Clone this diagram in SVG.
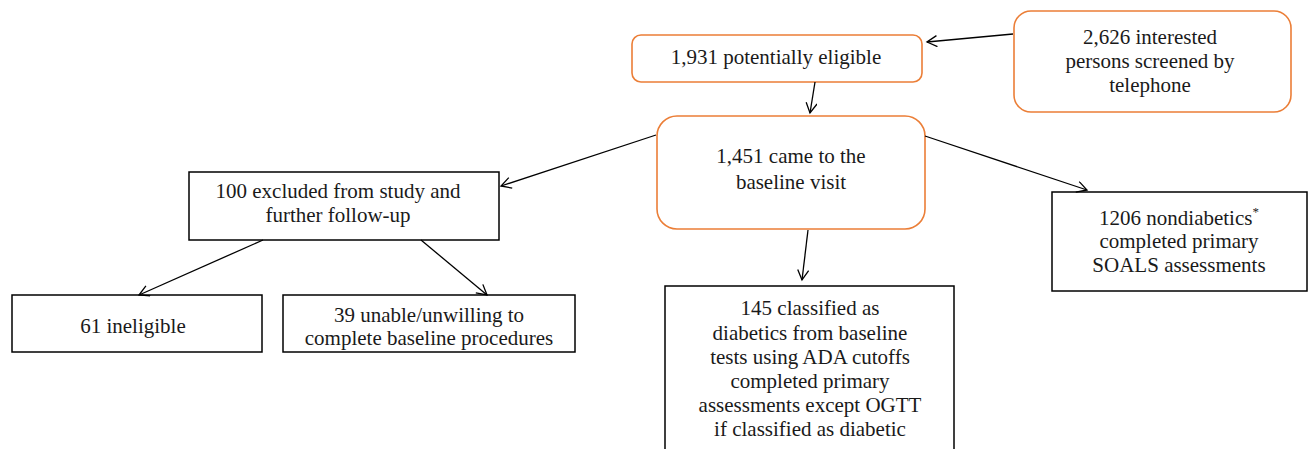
<svg xmlns="http://www.w3.org/2000/svg" width="1309" height="449" viewBox="0 0 1309 449">
<defs>
<style>
.ob{fill:#fff;stroke:#EB7E37;stroke-width:1.6}
.bb{fill:#fff;stroke:#000;stroke-width:1.5}
text{font-family:"Liberation Serif","Times New Roman",serif;font-size:21px;fill:#1a1a1a;text-anchor:middle}
.c line{stroke:#000;stroke-width:1.3;marker-end:url(#ah)}
</style>
<marker id="ah" markerUnits="userSpaceOnUse" markerWidth="14" markerHeight="14" refX="11" refY="6" orient="auto">
<path d="M1,0.5 L11,6 L1,11.5" fill="none" stroke="#000" stroke-width="1.3"/>
</marker>
</defs>
<rect width="1309" height="449" fill="#fff"/>
<g id="n2626">
<rect class="ob" x="1014" y="11" width="277" height="101" rx="17"/>
<text x="1150" y="44">2,626 interested</text>
<text x="1150" y="68">persons screened by</text>
<text x="1150" y="92">telephone</text>
</g>
<g id="n1931">
<rect class="ob" x="632" y="35" width="290" height="47" rx="9"/>
<text x="776" y="64">1,931 potentially eligible</text>
</g>
<g id="n1451">
<rect class="ob" x="657" y="116" width="268" height="113" rx="20"/>
<text x="791" y="163">1,451 came to the</text>
<text x="791" y="189">baseline visit</text>
</g>
<g id="n100">
<rect class="bb" x="189" y="172" width="310" height="68"/>
<text x="338" y="198">100 excluded from study and</text>
<text x="338" y="222">further follow-up</text>
</g>
<g id="n61">
<rect class="bb" x="12" y="295" width="250" height="57"/>
<text x="133" y="333">61 ineligible</text>
</g>
<g id="n39">
<rect class="bb" x="283" y="295" width="292" height="57"/>
<text x="429" y="322">39 unable/unwilling to</text>
<text x="429" y="345">complete baseline procedures</text>
</g>
<g id="n1206">
<rect class="bb" x="1052" y="192" width="255" height="99"/>
<text x="1179" y="225">1206 nondiabetics<tspan dy="-9" font-size="13">*</tspan></text>
<text x="1179" y="248">completed primary</text>
<text x="1179" y="272">SOALS assessments</text>
</g>
<g id="n145">
<rect class="bb" x="665" y="286" width="289" height="170"/>
<text x="810" y="315">145 classified as</text>
<text x="810" y="340">diabetics from baseline</text>
<text x="810" y="364">tests using ADA cutoffs</text>
<text x="810" y="388">completed primary</text>
<text x="810" y="412">assessments except OGTT</text>
<text x="810" y="436">if classified as diabetic</text>
</g>
<g id="connectors" class="c">
<line x1="1013" y1="34" x2="927" y2="42"/>
<line x1="815" y1="82" x2="810" y2="113"/>
<line x1="656" y1="135" x2="501" y2="186"/>
<line x1="925" y1="136" x2="1087" y2="190"/>
<line x1="808" y1="230" x2="802" y2="280"/>
<line x1="263" y1="240" x2="139" y2="295"/>
<line x1="421" y1="240" x2="487" y2="295"/>
</g>
</svg>
